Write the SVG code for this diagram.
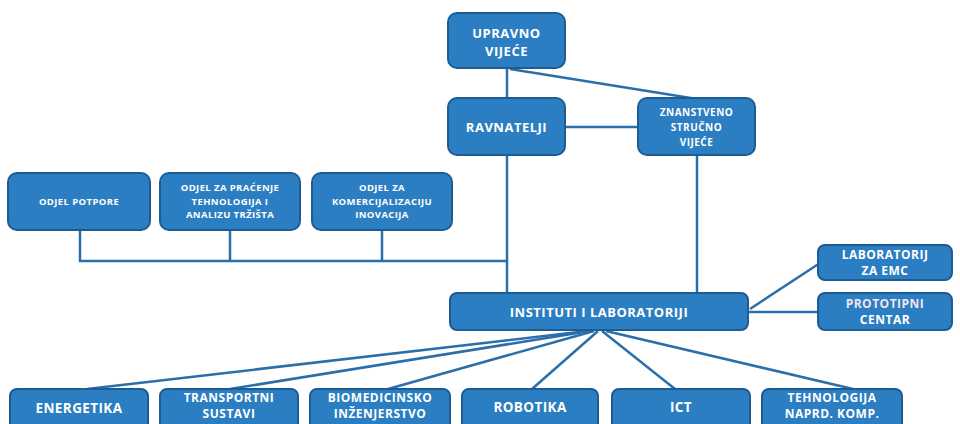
<svg xmlns="http://www.w3.org/2000/svg" width="960" height="424" viewBox="0 0 960 424">
<style>
.box{fill:#2b7ec2;stroke:#1d5d94;stroke-width:2}
.t{fill:#ffffff;font-family:"Open Sans","Liberation Sans",sans-serif;font-weight:bold;text-anchor:middle}
.big{font-size:13px;letter-spacing:0.5px}
.sm{font-size:9.5px;letter-spacing:0.4px}
.zn{font-size:10px;letter-spacing:0.5px}
.side{font-size:12px;letter-spacing:0.5px}
.b1{font-size:13.5px;letter-spacing:0.4px}
.b2{font-size:12px;letter-spacing:0.5px}
.ln{stroke:#2a6faa;stroke-width:2.5;fill:none}
</style>
<rect width="960" height="424" fill="#ffffff"/>
<g id="connectors">
<line class="ln" x1="507" y1="68" x2="507" y2="98"/>
<line class="ln" x1="510" y1="69" x2="697" y2="99"/>
<line class="ln" x1="565" y1="127" x2="638" y2="127"/>
<line class="ln" x1="507" y1="155" x2="507" y2="293"/>
<line class="ln" x1="697" y1="155" x2="697" y2="293"/>
<polyline class="ln" points="80,230 80,261 507,261"/>
<line class="ln" x1="230" y1="230" x2="230" y2="261"/>
<line class="ln" x1="382" y1="230" x2="382" y2="261"/>
<line class="ln" x1="750" y1="309" x2="820" y2="263"/>
<line class="ln" x1="748" y1="312" x2="818" y2="312"/>
<line class="ln" x1="587" y1="331" x2="87" y2="389"/>
<line class="ln" x1="590" y1="331" x2="230" y2="389"/>
<line class="ln" x1="594" y1="331" x2="388" y2="389"/>
<line class="ln" x1="598" y1="331" x2="532" y2="389"/>
<line class="ln" x1="602" y1="331" x2="675" y2="389"/>
<line class="ln" x1="606" y1="331" x2="853" y2="389"/>
</g>
<g id="upravno">
<rect class="box" x="448" y="13" width="117" height="55" rx="9"/>
<text class="t big" x="506.5" y="38">UPRAVNO</text>
<text class="t big" x="506.5" y="56">VIJEĆE</text>
</g>
<g id="ravnatelji">
<rect class="box" x="448" y="98" width="117" height="57" rx="9"/>
<text class="t big" x="506.5" y="132">RAVNATELJI</text>
</g>
<g id="znanstveno">
<rect class="box" x="638" y="98" width="117" height="57" rx="9"/>
<text class="t zn" x="696.5" y="116">ZNANSTVENO</text>
<text class="t zn" x="696.5" y="131">STRUČNO</text>
<text class="t zn" x="696.5" y="146">VIJEĆE</text>
</g>
<g id="odjel-potpore">
<rect class="box" x="8" y="173" width="142" height="57" rx="9"/>
<text class="t sm" x="79" y="205">ODJEL POTPORE</text>
</g>
<g id="odjel-pracenje">
<rect class="box" x="160" y="173" width="140" height="57" rx="9"/>
<text class="t sm" x="230" y="191">ODJEL ZA PRAĆENJE</text>
<text class="t sm" x="230" y="204.5">TEHNOLOGIJA I</text>
<text class="t sm" x="230" y="218">ANALIZU TRŽIŠTA</text>
</g>
<g id="odjel-komercijalizacija">
<rect class="box" x="312" y="173" width="140" height="57" rx="9"/>
<text class="t sm" x="382" y="191">ODJEL ZA</text>
<text class="t sm" x="382" y="204.5">KOMERCIJALIZACIJU</text>
<text class="t sm" x="382" y="218">INOVACIJA</text>
</g>
<g id="instituti">
<rect class="box" x="450" y="293" width="298" height="37" rx="7"/>
<text class="t big" x="599" y="316.5">INSTITUTI I LABORATORIJI</text>
</g>
<g id="lab-emc">
<rect class="box" x="818" y="245" width="134" height="35" rx="7"/>
<text class="t side" x="885" y="259">LABORATORIJ</text>
<text class="t side" x="885" y="275">ZA EMC</text>
</g>
<g id="prototipni">
<rect class="box" x="818" y="293" width="134" height="37" rx="7"/>
<text class="t side" x="885" y="308" style="fill:#f4e4ef">PROTOTIPNI</text>
<text class="t side" x="885" y="324">CENTAR</text>
</g>
<g id="energetika">
<rect class="box" x="10" y="389" width="138" height="42" rx="7"/>
<text class="t b1" x="79" y="413">ENERGETIKA</text>
</g>
<g id="transportni">
<rect class="box" x="160" y="389" width="138" height="42" rx="7"/>
<text class="t b2" x="229" y="402">TRANSPORTNI</text>
<text class="t b2" x="229" y="418">SUSTAVI</text>
</g>
<g id="biomedicinsko">
<rect class="box" x="310" y="389" width="140" height="42" rx="7"/>
<text class="t b2" x="380" y="402">BIOMEDICINSKO</text>
<text class="t b2" x="380" y="418">INŽENJERSTVO</text>
</g>
<g id="robotika">
<rect class="box" x="462" y="389" width="136" height="42" rx="7"/>
<text class="t b1" x="530" y="412">ROBOTIKA</text>
</g>
<g id="ict">
<rect class="box" x="612" y="389" width="138" height="42" rx="7"/>
<text class="t b1" x="681" y="412">ICT</text>
</g>
<g id="tehnologija">
<rect class="box" x="762" y="389" width="140" height="42" rx="7"/>
<text class="t b2" x="832" y="402">TEHNOLOGIJA</text>
<text class="t b2" x="832" y="418">NAPRD. KOMP.</text>
</g>
</svg>
